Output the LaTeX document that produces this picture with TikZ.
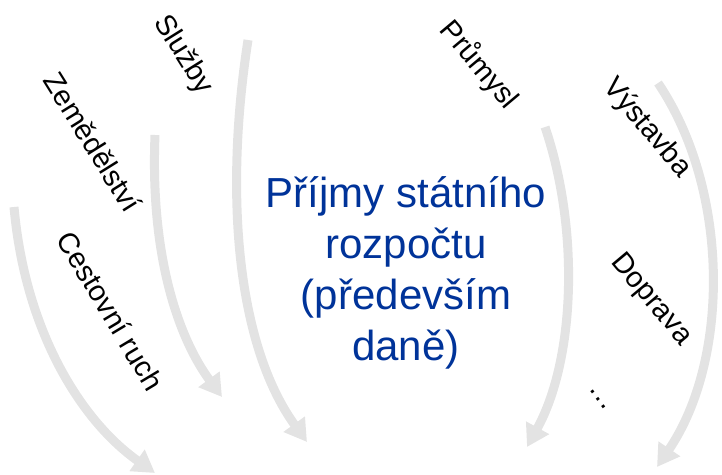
\documentclass[tikz,border=0pt]{standalone}
\usepackage{fontspec}
\setmainfont{Liberation Sans}
\usetikzlibrary{arrows.meta}
\definecolor{flowgray}{RGB}{227,227,227}
\definecolor{incomeblue}{RGB}{0,51,153}

\begin{document}
\begin{tikzpicture}[x=1pt, y=-1pt,
        flow/.style={line width=9pt, flowgray, -{Triangle[length=22pt, width=25pt]}},
        sector/.style={font=\fontsize{29}{35}\selectfont, inner sep=0pt}]
        \useasboundingbox (0,0) rectangle (722,474);

        % free ends of the flows
        \coordinate (c1) at (14,207);   \coordinate (c2) at (155,473);
        \coordinate (z1) at (155,135);  \coordinate (z2) at (222,397);
        \coordinate (s1) at (248,40);   \coordinate (s2) at (307,442);
        \coordinate (p1) at (545,127);  \coordinate (p2) at (527,447);
        \coordinate (v1) at (658,83);   \coordinate (v2) at (657,467);

        \draw[flow] (c1) .. controls (25,330) and (80,420) .. (c2);
        \draw[flow] (z1) .. controls (150,260) and (180,340) .. (z2);
        \draw[flow] (s1) .. controls (224,195) and (237,345) .. (s2);
        \draw[flow] (p1) .. controls (580,230) and (575,360) .. (p2);
        \draw[flow] (v1) .. controls (730,190) and (730,360) .. (v2);

        \node[sector, rotate=-58] (sluzby) at (183,55) {Služby};
        \node[sector, rotate=-58] (zemed) at (93,142) {Zemědělství};
        \node[sector, rotate=-59] (cestov) at (111,311) {Cestovní ruch};
        \node[sector, rotate=-50] (prumysl) at (479,65) {Průmysl};
        \node[sector, rotate=-50] (vystavba) at (647,128) {Výstavba};
        \node[sector, rotate=-50] (doprava) at (651,300) {Doprava};
        \node[sector, rotate=-54] (dalsi) at (598,399) {…};

        \node[text=incomeblue, font=\fontsize{42}{51}\selectfont, align=center, inner sep=0pt] (prijmy) at (406,273)
            {Příjmy státního\\rozpočtu\\(především\\daně)};
    \end{tikzpicture}
\end{document}
